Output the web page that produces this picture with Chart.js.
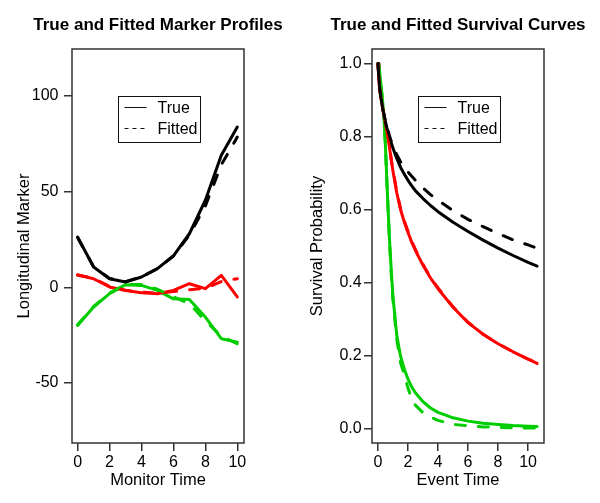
<!DOCTYPE html>
<html>
<head>
<meta charset="utf-8">
<script src="https://cdn.jsdelivr.net/npm/chart.js@4/dist/chart.umd.min.js"></script>
<style>
  body { margin: 0; background: #fff; }
  #wrap { display: flex; width: 600px; height: 503px; }
  canvas { display: block; }
</style>
</head>
<body>
<div id="wrap">
  <canvas id="markerChart" width="300" height="503"></canvas>
  <canvas id="survivalChart" width="300" height="503"></canvas>
</div>
<script>
// Left panel: longitudinal marker profiles
const monitorTimes = [0, 1, 2, 3, 4, 5, 6, 7, 8, 9, 10];
const markerTrueBlack = [26.3, 10.6, 4.5, 2.8, 5.4, 9.8, 16.5, 28, 45.5, 69, 83.7];
const markerFitBlack = [26, 10.8, 4.6, 3, 5.5, 9.8, 16.3, 27.3, 42.5, 64, 78.5];
const markerTrueRed = [6.6, 4.5, 0.2, -1.6, -2.8, -3.3, -1.6, 1.9, -0.7, 6.3, -5];
const markerFitRed = [6.3, 4.8, 0.5, -1.5, -2.5, -3, -2.2, -1.2, -0.5, 3, 4.5];
const markerTrueGreen = [-19.9, -10.3, -3.3, 1.4, 1.0, -1.6, -6, -6.3, -15.5, -26.8, -28.6];
const markerFitGreen = [-19.5, -10, -3, 1.5, 1.5, -1, -5, -8.5, -17.5, -25.5, -29.5];
const markerXTicks = [0, 2, 4, 6, 8, 10];
const markerYTicks = [-50, 0, 50, 100];

// Right panel: survival curves
const eventTimes = [0, 0.05, 0.1, 0.2, 0.3, 0.4, 0.5, 0.6, 0.75, 0.9, 1, 1.25, 1.5, 1.75, 2, 2.25, 2.5, 3, 3.5, 4, 5, 6, 7, 8, 9, 10, 10.6];
const survTrueBlack = [1, 0.965, 0.935, 0.905, 0.88, 0.858, 0.84, 0.823, 0.8, 0.78, 0.768, 0.74, 0.716, 0.697, 0.68, 0.665, 0.651, 0.63, 0.611, 0.594, 0.565, 0.54, 0.516, 0.494, 0.474, 0.455, 0.445];
const survFitBlack = [1, 0.965, 0.935, 0.905, 0.88, 0.86, 0.842, 0.826, 0.804, 0.785, 0.772, 0.75, 0.731, 0.716, 0.703, 0.691, 0.68, 0.659, 0.641, 0.625, 0.597, 0.573, 0.553, 0.534, 0.517, 0.503, 0.494];
const survTrueRed = [1, 0.965, 0.935, 0.905, 0.88, 0.855, 0.835, 0.81, 0.775, 0.73, 0.705, 0.646, 0.6, 0.566, 0.537, 0.51, 0.487, 0.447, 0.412, 0.383, 0.332, 0.29, 0.258, 0.232, 0.21, 0.19, 0.178];
const survFitRed = [1, 0.966, 0.937, 0.907, 0.882, 0.858, 0.838, 0.813, 0.778, 0.733, 0.708, 0.649, 0.603, 0.569, 0.54, 0.513, 0.49, 0.449, 0.414, 0.385, 0.333, 0.291, 0.258, 0.232, 0.21, 0.19, 0.18];
const survTrueGreen = [1, 0.995, 0.98, 0.94, 0.9, 0.85, 0.77, 0.67, 0.53, 0.42, 0.36, 0.255, 0.198, 0.163, 0.135, 0.113, 0.097, 0.073, 0.056, 0.044, 0.029, 0.02, 0.014, 0.011, 0.008, 0.006, 0.005];
const survFitGreen = [1, 0.995, 0.98, 0.94, 0.9, 0.85, 0.77, 0.665, 0.525, 0.41, 0.35, 0.245, 0.18, 0.148, 0.11, 0.08, 0.063, 0.043, 0.031, 0.022, 0.011, 0.007, 0.004, 0.003, 0.002, 0.001, 0.001];
const survXTicks = [0, 2, 4, 6, 8, 10];
const survYTicks = [0, 0.2, 0.4, 0.6, 0.8, 1.0];

const legendLabels = ["True", "Fitted"];

const FONT = '"Liberation Sans", Arial, Helvetica, sans-serif';
const BLACK = "#000000";
const RED = "#ff0000";
const GREEN = "#00cd00";

function toPoints(xs, ys) {
  return xs.map((x, i) => ({ x: x, y: ys[i] }));
}

function lineSet(xs, ys, color, dashed) {
  return {
    data: toPoints(xs, ys),
    borderColor: color,
    borderWidth: 3,
    borderDash: dashed ? [10, 13] : [],
    borderCapStyle: "round",
    borderJoinStyle: "round",
    pointRadius: 0,
    tension: 0,
    fill: false,
  };
}

// box around the plot region and the main title centred over it (as R does)
const plotBox = {
  id: "plotBox",
  afterDatasetsDraw(chart) {
    const { ctx, chartArea } = chart;
    ctx.save();
    ctx.strokeStyle = "#333";
    ctx.lineWidth = 1.5;
    ctx.strokeRect(chartArea.left, chartArea.top, chartArea.right - chartArea.left, chartArea.bottom - chartArea.top);
    ctx.fillStyle = "#000";
    ctx.font = "bold 17px " + FONT;
    ctx.textAlign = "center";
    ctx.textBaseline = "middle";
    ctx.fillText(chart.options.plugins.mainTitle.text, (chartArea.left + chartArea.right) / 2, 25);
    ctx.restore();
  },
};

// R style legend box with line samples
const legendBox = {
  id: "legendBox",
  afterDraw(chart) {
    const { ctx, chartArea } = chart;
    const x = Math.round(chartArea.left + 46) + 0.5;
    const y = Math.round(chartArea.top + 47) + 0.5;
    ctx.save();
    ctx.fillStyle = "#fff";
    ctx.fillRect(x, y, 82, 46);
    ctx.strokeStyle = "#111";
    ctx.lineWidth = 1;
    ctx.strokeRect(x, y, 82, 46);
    ctx.font = "16px " + FONT;
    ctx.textBaseline = "middle";
    legendLabels.forEach((label, i) => {
      const ly = y + 11 + i * 21;
      ctx.setLineDash(i === 0 ? [] : [4, 4]);
      ctx.beginPath();
      ctx.moveTo(x + 6, ly);
      ctx.lineTo(x + 28, ly);
      ctx.stroke();
      ctx.setLineDash([]);
      ctx.fillStyle = "#000";
      ctx.fillText(label, x + 39, ly + 1);
    });
    ctx.restore();
  },
};

function makePanel(canvasId, opts) {
  const tickGrid = {
    drawOnChartArea: false,
    drawTicks: true,
    tickLength: 8,
    color: "#333",
    lineWidth: 1.5,
  };
  return new Chart(document.getElementById(canvasId).getContext("2d"), {
    type: "line",
    data: { datasets: opts.datasets },
    plugins: [plotBox, legendBox],
    options: {
      responsive: false,
      animation: false,
      devicePixelRatio: 1,
      layout: { padding: { left: 0, right: 56, top: 49, bottom: 0 } },
      plugins: {
        legend: { display: false },
        tooltip: { enabled: false },
        title: { display: false },
        mainTitle: { text: opts.title },
      },
      scales: {
        x: {
          type: "linear",
          min: opts.xMin,
          max: opts.xMax,
          afterBuildTicks: (s) => { s.ticks = opts.xTicks.map((v) => ({ value: v })); },
          afterFit: (s) => { s.height = 60; },
          ticks: { color: "#000", font: { family: FONT, size: 16 }, padding: 2, maxRotation: 0, autoSkip: false, callback: (v) => String(v) },
          grid: tickGrid,
          border: { display: false },
          title: { display: true, text: opts.xTitle, color: "#000", font: { family: FONT, size: 16.5 }, padding: { top: 0, bottom: 13 } },
        },
        y: {
          type: "linear",
          min: opts.yMin,
          max: opts.yMax,
          afterBuildTicks: (s) => { s.ticks = opts.yTicks.map((v) => ({ value: v })); },
          afterFit: (s) => { s.width = 72; },
          ticks: { color: "#000", font: { family: FONT, size: 16 }, padding: opts.yPad, autoSkip: false, callback: opts.yFormat },
          grid: tickGrid,
          border: { display: false },
          title: { display: true, text: opts.yTitle, color: "#000", font: { family: FONT, size: 16.5 }, padding: { top: opts.yTitlePad, bottom: 0 } },
        },
      },
    },
  });
}

document.addEventListener("DOMContentLoaded", () => {
  makePanel("markerChart", {
    title: "True and Fitted Marker Profiles",
    xTitle: "Monitor Time",
    yTitle: "Longitudinal Marker",
    xMin: -0.35, xMax: 10.42,
    yMin: -81.3, yMax: 124.5,
    xTicks: markerXTicks,
    yTicks: markerYTicks,
    yPad: 5.5,
    yTitlePad: 15,
    yFormat: (v) => String(v),
    datasets: [
      lineSet(monitorTimes, markerFitBlack, BLACK, true),
      lineSet(monitorTimes, markerFitRed, RED, true),
      lineSet(monitorTimes, markerFitGreen, GREEN, true),
      lineSet(monitorTimes, markerTrueBlack, BLACK, false),
      lineSet(monitorTimes, markerTrueRed, RED, false),
      lineSet(monitorTimes, markerTrueGreen, GREEN, false),
    ],
  });

  makePanel("survivalChart", {
    title: "True and Fitted Survival Curves",
    xTitle: "Event Time",
    yTitle: "Survival Probability",
    xMin: -0.4, xMax: 11.06,
    yMin: -0.04, yMax: 1.04,
    xTicks: survXTicks,
    yTicks: survYTicks,
    yPad: 2.3,
    yTitlePad: 7.5,
    yFormat: (v) => v.toFixed(1),
    datasets: [
      lineSet(eventTimes, survFitBlack, BLACK, true),
      lineSet(eventTimes, survFitRed, RED, true),
      lineSet(eventTimes, survFitGreen, GREEN, true),
      lineSet(eventTimes, survTrueBlack, BLACK, false),
      lineSet(eventTimes, survTrueRed, RED, false),
      lineSet(eventTimes, survTrueGreen, GREEN, false),
    ],
  });
});
</script>
</body>
</html>
